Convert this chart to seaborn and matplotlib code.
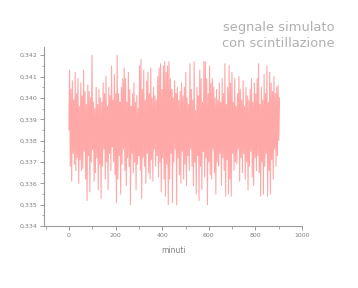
import matplotlib
matplotlib.use("Agg")
import matplotlib.pyplot as plt
import seaborn as sns
import numpy as np
import pandas as pd
from matplotlib.ticker import MultipleLocator, FuncFormatter

# --- data ---
step_minutes = 3
signal = [
    0.3385, 0.3413, 0.3368, 0.3404, 0.3361, 0.3408, 0.3374, 0.3399, 0.3369, 0.3412,
    0.3366, 0.3402, 0.3372, 0.3409, 0.3360, 0.3396, 0.3371, 0.3407, 0.3366, 0.3401,
    0.3367, 0.3413, 0.3375, 0.3403, 0.3362, 0.3397, 0.3352, 0.3406, 0.3373, 0.3403,
    0.3356, 0.3400, 0.3370, 0.3420, 0.3376, 0.3398, 0.3361, 0.3395, 0.3365, 0.3405,
    0.3372, 0.3397, 0.3357, 0.3404, 0.3369, 0.3400, 0.3353, 0.3398, 0.3368, 0.3407,
    0.3376, 0.3402, 0.3362, 0.3410, 0.3370, 0.3396, 0.3357, 0.3405, 0.3374, 0.3401,
    0.3366, 0.3415, 0.3377, 0.3399, 0.3370, 0.3411, 0.3364, 0.3402, 0.3351, 0.3420,
    0.3362, 0.3402, 0.3373, 0.3398, 0.3355, 0.3405, 0.3369, 0.3409, 0.3376, 0.3414,
    0.3366, 0.3409, 0.3359, 0.3398, 0.3372, 0.3412, 0.3368, 0.3404, 0.3350, 0.3396,
    0.3374, 0.3402, 0.3365, 0.3407, 0.3370, 0.3398, 0.3357, 0.3401, 0.3369, 0.3395,
    0.3373, 0.3415, 0.3366, 0.3418, 0.3353, 0.3404, 0.3372, 0.3413, 0.3368, 0.3399,
    0.3360, 0.3408, 0.3374, 0.3412, 0.3365, 0.3402, 0.3362, 0.3414, 0.3371, 0.3400,
    0.3361, 0.3405, 0.3376, 0.3401, 0.3368, 0.3399, 0.3373, 0.3410, 0.3363, 0.3414,
    0.3370, 0.3416, 0.3356, 0.3404, 0.3372, 0.3415, 0.3362, 0.3417, 0.3354, 0.3412,
    0.3369, 0.3415, 0.3350, 0.3417, 0.3362, 0.3409, 0.3374, 0.3404, 0.3351, 0.3400,
    0.3370, 0.3408, 0.3376, 0.3402, 0.3350, 0.3405, 0.3372, 0.3399, 0.3364, 0.3403,
    0.3360, 0.3407, 0.3375, 0.3401, 0.3362, 0.3405, 0.3369, 0.3412, 0.3359, 0.3400,
    0.3373, 0.3397, 0.3366, 0.3416, 0.3376, 0.3404, 0.3368, 0.3399, 0.3359, 0.3417,
    0.3370, 0.3394, 0.3355, 0.3405, 0.3373, 0.3401, 0.3352, 0.3413, 0.3368, 0.3409,
    0.3357, 0.3398, 0.3375, 0.3417, 0.3363, 0.3417, 0.3372, 0.3409, 0.3350, 0.3402,
    0.3370, 0.3415, 0.3364, 0.3407, 0.3362, 0.3409, 0.3376, 0.3405, 0.3365, 0.3400,
    0.3355, 0.3404, 0.3370, 0.3399, 0.3368, 0.3407, 0.3374, 0.3398, 0.3359, 0.3409,
    0.3372, 0.3402, 0.3366, 0.3416, 0.3354, 0.3397, 0.3371, 0.3405, 0.3355, 0.3415,
    0.3362, 0.3407, 0.3354, 0.3412, 0.3374, 0.3398, 0.3366, 0.3409, 0.3370, 0.3396,
    0.3369, 0.3402, 0.3376, 0.3410, 0.3361, 0.3404, 0.3372, 0.3399, 0.3365, 0.3408,
    0.3374, 0.3396, 0.3362, 0.3405, 0.3370, 0.3401, 0.3357, 0.3399, 0.3368, 0.3404,
    0.3375, 0.3409, 0.3363, 0.3398, 0.3359, 0.3407, 0.3372, 0.3402, 0.3366, 0.3409,
    0.3373, 0.3416, 0.3365, 0.3397, 0.3354, 0.3405, 0.3370, 0.3399, 0.3355, 0.3411,
    0.3368, 0.3402, 0.3374, 0.3415, 0.3354, 0.3398, 0.3366, 0.3412, 0.3355, 0.3407,
    0.3371, 0.3403, 0.3362, 0.3410, 0.3376, 0.3402, 0.3368, 0.3405, 0.3373, 0.3406,
    0.3380, 0.3400,
]
minutes = [i * step_minutes for i in range(len(signal))]
x_ticks = [0, 200, 400, 600, 800, 1000]
y_ticks = [0.334, 0.335, 0.336, 0.337, 0.338, 0.339, 0.340, 0.341, 0.342]
title_lines = ["segnale simulato", "con scintillazione"]
x_label = "minuti"

df = pd.DataFrame({"minuti": minutes, "segnale": signal})

sns.set_theme(style="white")
plt.rcParams["font.family"] = ["DejaVu Sans"]

fig = plt.figure(figsize=(3.58, 2.88), dpi=100)
ax = fig.add_axes([0.124, 0.215, 0.720, 0.623])

sns.lineplot(data=df, x="minuti", y="segnale", ax=ax, color="#ffa8a8",
             linewidth=0.8, estimator=None)

ax.set_xlim(-105, 1000)
ax.set_ylim(0.334, 0.3424)
ax.set_xticks(x_ticks)
ax.set_yticks(y_ticks)
ax.xaxis.set_minor_locator(MultipleLocator(100))
ax.yaxis.set_minor_locator(MultipleLocator(0.0005))
ax.yaxis.set_major_formatter(FuncFormatter(lambda v, p: f"{v:.3f}".replace(".", ",")))
ax.xaxis.set_major_formatter(FuncFormatter(lambda v, p: f"{int(round(v))}"))

gray = "#9a9a9a"
for s in ["top", "right"]:
    ax.spines[s].set_visible(False)
for s in ["left", "bottom"]:
    ax.spines[s].set_color(gray)
    ax.spines[s].set_linewidth(0.8)

ax.tick_params(which="major", direction="out", length=3, width=0.7, color=gray,
               labelsize=4.5, labelcolor="#808080", left=True, bottom=True, pad=2)
ax.tick_params(which="minor", direction="out", length=1.8, width=0.6, color=gray,
               left=True, bottom=True)

ax.set_xlabel(x_label, fontsize=5.5, color="#808080", labelpad=6)
ax.set_ylabel("")
ax.grid(False)

fig.text(0.936, 0.927, "\n".join(title_lines), ha="right", va="top",
         fontsize=9.4, color="#b0b0b0", linespacing=1.3)

fig.savefig("out.png", dpi=100)
